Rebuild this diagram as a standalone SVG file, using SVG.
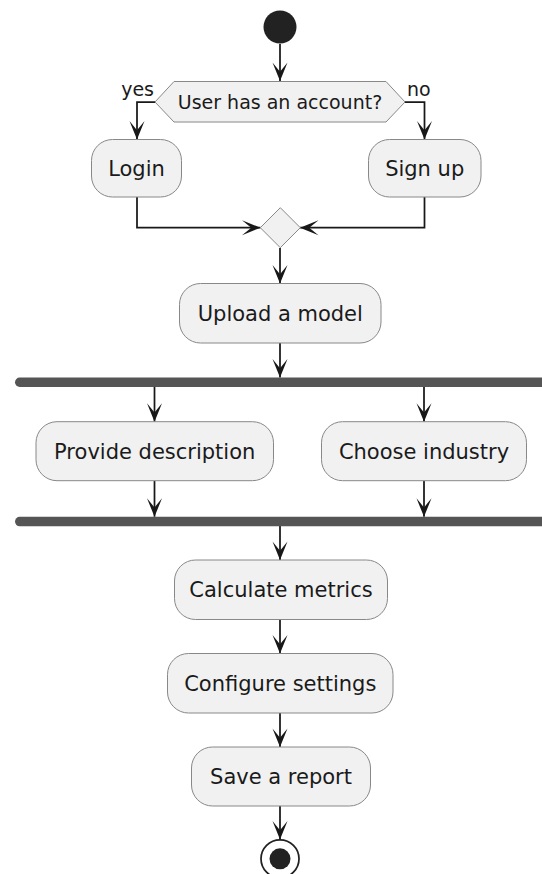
<svg xmlns="http://www.w3.org/2000/svg" width="542" height="874" viewBox="0 0 542 874">
<style>
.box{fill:#F1F1F1;stroke:#888888;stroke-width:1}
.t{font-family:"DejaVu Sans",sans-serif;font-size:21px;fill:#1a1a1a;text-anchor:middle}
.d{font-family:"DejaVu Sans",sans-serif;font-size:19px;fill:#1a1a1a;text-anchor:middle}
.lbl{font-family:"DejaVu Sans",sans-serif;font-size:19px;fill:#1a1a1a}
.e{fill:none;stroke:#181818;stroke-width:1.75}
.bar{fill:#555555}
</style>
<defs>
<marker id="ah" viewBox="-19 -9 20 18" refX="0" refY="0" markerWidth="20" markerHeight="18" markerUnits="userSpaceOnUse" orient="auto">
<path d="M0,0 L-18.5,-7.5 L-9.25,0 L-18.5,7.5 Z" fill="#181818"/>
</marker>
</defs>
<g id="connectors">
<path class="e" d="M280,44 V81" marker-end="url(#ah)"/>
<path class="e" d="M155,102 H137 V139.5" marker-end="url(#ah)"/>
<path class="e" d="M405,102 H424.5 V139.5" marker-end="url(#ah)"/>
<path class="e" d="M137,197 V227.7 H260.5" marker-end="url(#ah)"/>
<path class="e" d="M424.5,197 V227.7 H300" marker-end="url(#ah)"/>
<path class="e" d="M280,248 V283.5" marker-end="url(#ah)"/>
<path class="e" d="M280,343 V377.5" marker-end="url(#ah)"/>
<path class="e" d="M154.5,387 V421.7" marker-end="url(#ah)"/>
<path class="e" d="M424,387 V421.7" marker-end="url(#ah)"/>
<path class="e" d="M154.5,481 V516.8" marker-end="url(#ah)"/>
<path class="e" d="M424,481 V516.8" marker-end="url(#ah)"/>
<path class="e" d="M280,526 V560" marker-end="url(#ah)"/>
<path class="e" d="M280,619.5 V653.5" marker-end="url(#ah)"/>
<path class="e" d="M280,713 V747" marker-end="url(#ah)"/>
<path class="e" d="M280,806 V839.5" marker-end="url(#ah)"/>
</g>
<g id="start"><circle cx="280" cy="27" r="16.5" fill="#222222"/></g>
<g id="decision">
<polygon class="box" points="155,102 174,81.5 386,81.5 405,102 386,122 174,122"/>
<text class="d" x="280" y="108.5">User has an account?</text>
<text class="lbl" x="154" y="96" text-anchor="end">yes</text>
<text class="lbl" x="407" y="96">no</text>
</g>
<g id="login"><rect class="box" x="91.5" y="139.5" width="90" height="57.5" rx="21" ry="21"/><text class="t" x="136.5" y="175.5">Login</text></g>
<g id="signup"><rect class="box" x="368.5" y="139.5" width="112.5" height="57.5" rx="21" ry="21"/><text class="t" x="424.7" y="175.5">Sign up</text></g>
<g id="merge"><polygon class="box" points="280.3,207.7 300.3,227.7 280.3,247.7 260.3,227.7"/></g>
<g id="upload"><rect class="box" x="179.5" y="283.5" width="201.5" height="59.5" rx="21" ry="21"/><text class="t" x="280.3" y="320.5">Upload a model</text></g>
<g id="fork"><rect class="bar" x="15" y="377.5" width="570" height="9.5" rx="4.7" ry="4.7"/></g>
<g id="describe"><rect class="box" x="36" y="421.7" width="237.5" height="59" rx="21" ry="21"/><text class="t" x="154.7" y="458.5">Provide description</text></g>
<g id="industry"><rect class="box" x="321.5" y="421.7" width="205" height="59" rx="21" ry="21"/><text class="t" x="424" y="458.5">Choose industry</text></g>
<g id="join"><rect class="bar" x="15" y="516.8" width="570" height="9.5" rx="4.7" ry="4.7"/></g>
<g id="calculate"><rect class="box" x="174.5" y="560" width="213" height="59.5" rx="21" ry="21"/><text class="t" x="281" y="597">Calculate metrics</text></g>
<g id="configure"><rect class="box" x="167.5" y="653.5" width="225.5" height="59.5" rx="21" ry="21"/><text class="t" x="280.3" y="690.5">Configure settings</text></g>
<g id="save"><rect class="box" x="191.5" y="747" width="179" height="59" rx="21" ry="21"/><text class="t" x="281" y="784">Save a report</text></g>
<g id="end"><circle cx="280" cy="858.8" r="19" fill="none" stroke="#222222" stroke-width="1.75"/><circle cx="280" cy="858.8" r="10.5" fill="#222222"/></g>
</svg>
